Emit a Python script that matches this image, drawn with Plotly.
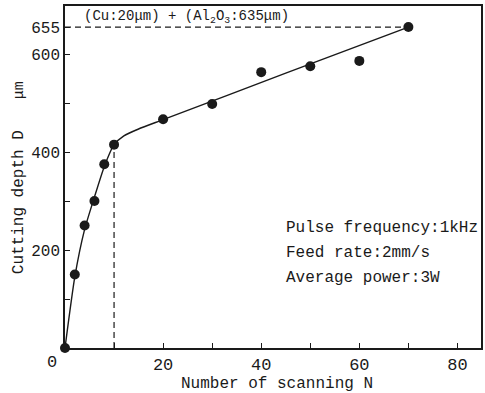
import plotly.graph_objects as go

# Measured data
scan_n = [0, 2, 4, 6, 8, 10, 20, 30, 40, 50, 60, 70]
depth_um = [0, 150, 250, 300, 375, 415, 467, 498, 563, 575, 586, 655]

# Fitted curve knots (drawn as smooth line)
fit_n = [0, 2, 4, 6, 8, 10, 12, 15, 20, 45, 70]
fit_d = [0, 145, 242, 308, 370, 415, 433, 447, 466, 561, 655]

x_ticks = [10, 20, 30, 40, 50, 60, 70, 80]
x_ticktext = ["", "20", "", "40", "", "60", "", "80"]
y_ticks = [100, 200, 300, 400, 500, 600, 655]
y_ticktext = ["", "200", "", "400", "", "600", "655"]

total_depth = 655
transition_n = 10
transition_d = 415

MONO = "Liberation Mono, DejaVu Sans Mono, monospace"
INK = "#1a1a1a"

fig = go.Figure()

# dashed guides
fig.add_trace(go.Scatter(x=[0, scan_n[-1]], y=[total_depth, total_depth], mode="lines",
                         line=dict(color=INK, width=1.2, dash="6px,4px"), hoverinfo="skip"))
fig.add_trace(go.Scatter(x=[transition_n, transition_n], y=[0, transition_d], mode="lines",
                         line=dict(color=INK, width=1.2, dash="6px,4px"), hoverinfo="skip"))

# fitted curve
fig.add_trace(go.Scatter(x=fit_n, y=fit_d, mode="lines", line_shape="spline",
                         line=dict(color=INK, width=1.4, smoothing=0.6), hoverinfo="skip"))

# data points
fig.add_trace(go.Scatter(x=scan_n, y=depth_um, mode="markers",
                         marker=dict(color=INK, size=10), cliponaxis=False))

axis_common = dict(showgrid=False, zeroline=False, showline=True, linecolor=INK,
                   linewidth=1.5, mirror=True, ticks="inside", ticklen=5, tickwidth=1.3,
                   tickcolor=INK, tickmode="array")

fig.update_xaxes(range=[0, 84.8], tickvals=x_ticks, ticktext=x_ticktext, ticklabelstandoff=0,
                 tickfont=dict(family=MONO, size=17, color=INK), **axis_common)
fig.update_yaxes(range=[0, 698], tickvals=y_ticks, ticktext=y_ticktext,
                 tickfont=dict(family=MONO, size=16, color=INK), **axis_common)

annotations = [
    dict(text="0", x=0, y=0, xref="x", yref="y", xshift=-13, yshift=-14, showarrow=False,
         font=dict(family=MONO, size=17, color=INK)),
    dict(text="(Cu:20μm) + (Al<sub>2</sub>O<sub>3</sub>:635μm)", x=82, y=17, xref="paper", yref="paper",
         showarrow=False, xanchor="left", yanchor="middle",
         font=dict(family=MONO, size=14, color=INK)),
    dict(text="Pulse frequency:1kHz", x=285, y=228, showarrow=False, xanchor="left", yanchor="middle",
         font=dict(family=MONO, size=16, color=INK)),
    dict(text="Feed rate:2mm/s", x=285, y=253, showarrow=False, xanchor="left", yanchor="middle",
         font=dict(family=MONO, size=16, color=INK)),
    dict(text="Average power:3W", x=285, y=278, showarrow=False, xanchor="left", yanchor="middle",
         font=dict(family=MONO, size=16, color=INK)),
    dict(text="Number of scanning N", x=278, y=384, showarrow=False, xanchor="center", yanchor="middle",
         font=dict(family=MONO, size=16, color=INK)),
    dict(text="Cutting depth D", x=19, y=202, showarrow=False, textangle=-90, xanchor="center",
         yanchor="middle", font=dict(family=MONO, size=16, color=INK)),
    dict(text="μm", x=19, y=90, showarrow=False, textangle=-90, xanchor="center",
         yanchor="middle", font=dict(family=MONO, size=15, color=INK)),
]

W, H = 485, 393
L, R, T, B = 65, 2, 6, 45
pw, ph = W - L - R, H - T - B
# convert pixel positions into paper coordinates
for a in annotations:
    if a.get("xref") == "x":
        continue
    px, py = a["x"], a["y"]
    a["x"] = (px - L) / pw
    a["y"] = 1 - (py - T) / ph
    a["xref"] = "paper"
    a["yref"] = "paper"

fig.update_layout(width=W, height=H, margin=dict(l=L, r=R, t=T, b=B),
                  paper_bgcolor="white", plot_bgcolor="white", showlegend=False,
                  annotations=annotations)

fig.write_html("out.html")
